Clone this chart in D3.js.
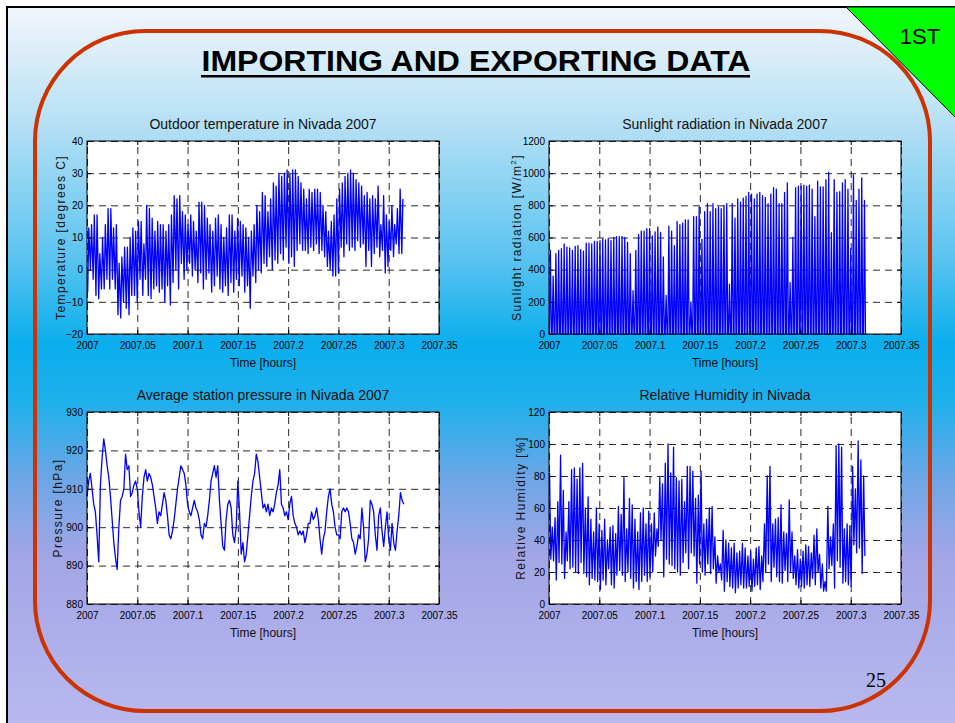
<!DOCTYPE html>
<html>
<head>
<meta charset="utf-8">
<script src="https://cdn.jsdelivr.net/npm/d3@7"></script>
<style>
body { margin: 0; background: #fff; }
svg { display: block; font-family: "Liberation Sans", Arial, sans-serif; }
</style>
</head>
<body>
<svg id="slide" width="955" height="723"></svg>
<script>
// shared x axis (decimal year)
const xTicks = [2007, 2007.05, 2007.1, 2007.15, 2007.2, 2007.25, 2007.3, 2007.35];
const xTickLabels = ['2007', '2007.05', '2007.1', '2007.15', '2007.2', '2007.25', '2007.3', '2007.35'];

const tempTicks = [-20, -10, 0, 10, 20, 30, 40];
const sunTicks = [0, 200, 400, 600, 800, 1000, 1200];
const pressTicks = [880, 890, 900, 910, 920, 930];
const humidTicks = [0, 20, 40, 60, 80, 100, 120];

// daily highs / lows of outdoor temperature, day 0 = 1 Jan 2007
const tempHigh = [13,14,17,17,5,10,14,19,19,13,14,2,4,7,7,10,13,12,
	15,15,8,20,19,16,12,15,14,14,12,14,17,23,22,23,18,17,14,
	17,15,12,21,21,20,16,14,12,16,17,14,10,13,17,17,12,16,
	15,14,13,10,12,14,20,18,24,23,18,22,27,26,30,29,30,31,
	30,31,31,29,27,25,22,25,24,25,25,24,20,18,12,15,17,22,
	25,27,29,30,31,30,28,27,26,23,24,22,23,22,26,14,23,17,15,
	20,14,19,25,22];
const tempLow = [-7,0,-3,-8,-9,-6,-6,-3,-6,-3,-6,-14,-15,-10,-12,-14,-8,-8,
	-10,-3,-8,-3,-8,-9,-6,-5,-7,-6,-10,-5,-11,-4,0,-6,2,-3,0,
	2,-2,0,-4,-1,-6,-3,-1,-7,-5,-2,-6,-7,-5,-8,-4,-7,-3,
	-5,-2,-7,-5,-12,-2,-4,0,-1,2,1,4,0,3,2,5,3,7,
	2,4,1,6,8,6,6,5,7,6,8,5,6,4,1,0,-2,-2,
	-1,7,4,8,6,7,6,9,7,8,1,6,1,5,7,4,6,-1,1,
	6,4,8,5,5];

// daily peak of sunlight radiation
const sunPeak = [520,360,500,520,530,560,540,535,520,545,550,525,515,565,565,560,575,575,
	580,590,585,595,580,600,605,605,605,600,570,500,270,520,620,640,640,655,655,
	610,635,665,630,480,240,670,640,550,700,680,690,710,710,200,730,730,790,
	590,760,810,760,810,780,790,780,800,810,310,810,720,840,820,845,855,880,
	870,840,870,880,860,850,810,870,910,900,810,810,880,940,320,600,910,920,
	920,925,920,925,900,730,950,915,915,960,1005,630,960,880,885,940,960,900,530,
	990,830,900,970,830];

// station pressure, one reading every 1/600 year
const pressure = [908,912,914,910,906,904,898,891,911,918,923,920,916,913,908,902,896,892,889,900,
	907,908,910,919,915,916,908,909,911,912,910,904,900,908,913,915,912,914,913,911,
	908,905,901,904,903,906,909,907,903,898,897,899,902,906,910,913,916,915,914,911,
	906,904,903,905,907,905,904,902,898,897,901,900,903,907,912,914,916,913,916,907,
	901,895,894,902,906,907,905,898,896,900,912,904,893,896,891,893,898,903,908,912,
	914,919,917,913,909,905,906,904,906,903,905,904,906,909,911,915,906,905,903,904,
	902,906,908,903,901,900,898,899,898,899,896,898,901,901,904,902,903,905,902,897,
	893,897,899,904,908,910,906,904,900,898,898,897,904,905,904,905,904,901,897,896,
	893,895,898,897,905,900,891,893,897,907,906,904,898,894,903,905,899,895,900,904,
	897,894,901,896,894,899,903,909,907,906];

// relative humidity, night highs and day lows
const humidHigh = [82,48,54,64,93,71,45,64,84,85,78,85,88,60,67,53,45,60,
	50,46,53,40,48,49,44,61,56,79,47,66,62,53,45,57,60,50,58,
	50,57,47,79,75,88,100,82,98,79,77,78,64,86,86,83,66,68,
	83,50,53,60,61,42,30,25,46,40,38,35,38,32,33,38,35,30,
	33,28,35,36,30,50,80,86,50,53,54,62,45,44,65,45,30,34,
	28,33,37,36,32,43,47,31,25,14,61,42,50,99,100,98,47,50,49,
	86,72,102,90,80];
const humidLow = [28,27,15,26,25,16,27,22,23,20,19,26,19,17,12,16,15,14,
	9,15,12,22,12,10,18,21,18,14,20,16,10,14,9,14,18,14,17,
	20,30,36,40,17,28,25,24,22,20,18,26,32,22,32,30,13,25,
	20,18,25,19,22,13,20,15,8,14,11,10,7,10,12,10,10,11,
	8,11,12,9,14,20,25,14,23,17,14,13,21,14,20,16,12,10,
	11,10,12,11,16,12,20,10,8,8,22,24,10,27,23,13,14,12,11,
	37,32,35,19,30];

const svg = d3.select('#slide');
const W = 955, H = 723;
const dayToYear = d => 2007 + d / 365;

// slide background
const defs = svg.append('defs');
const grad = defs.append('linearGradient').attr('id', 'bg')
	.attr('x1', 0).attr('y1', 0).attr('x2', 0).attr('y2', 1);
[[0, '#f2f6fb'], [0.16, '#b5e0f5'], [0.34, '#5cc4f0'], [0.46, '#0aaeee'], [0.54, '#1fb0ec'],
	[0.64, '#6ba6e6'], [0.75, '#a3a6e6'], [1, '#bbbaf0']].forEach(s => {
	grad.append('stop').attr('offset', s[0]).attr('stop-color', s[1]);
});

svg.append('rect')
	.attr('x', 7).attr('y', 7).attr('width', W + 10).attr('height', H + 10)
	.attr('fill', 'url(#bg)').attr('stroke', '#000').attr('stroke-width', 2);

svg.append('path')
	.attr('d', 'M846,7L956,7L956,118Z')
	.attr('fill', '#00ff00').attr('stroke', '#000').attr('stroke-width', 1);
svg.append('text')
	.attr('x', 920).attr('y', 44).attr('text-anchor', 'middle')
	.attr('font-size', 22).text('1ST');

svg.append('rect')
	.attr('x', 35).attr('y', 31).attr('width', 895).attr('height', 680)
	.attr('rx', 110).attr('ry', 110)
	.attr('fill', 'none').attr('stroke', '#cc3300').attr('stroke-width', 4);

svg.append('text')
	.attr('x', 476).attr('y', 71).attr('text-anchor', 'middle')
	.attr('font-size', 29).attr('font-weight', 'bold')
	.attr('textLength', 549).attr('lengthAdjust', 'spacingAndGlyphs')
	.text('IMPORTING AND EXPORTING DATA');
svg.append('rect')
	.attr('x', 201).attr('y', 75).attr('width', 549).attr('height', 2.5).attr('fill', '#000');

svg.append('text')
	.attr('x', 876).attr('y', 687).attr('text-anchor', 'middle')
	.attr('font-family', '"Liberation Serif", "Times New Roman", serif')
	.attr('font-size', 20).text('25');

// panels
const panels = [
	{ id: 'temp', left: 87, top: 141, height: 193, yDomain: [-20, 40], yTicks: tempTicks,
		title: 'Outdoor temperature in Nivada 2007', ylabel: 'Temperature [degrees C]', labelOff: 22 },
	{ id: 'sun', left: 549, top: 141, height: 193, yDomain: [0, 1200], yTicks: sunTicks,
		title: 'Sunlight radiation in Nivada 2007', ylabel: 'Sunlight radiation [W/m', sup: '2', labelOff: 28 },
	{ id: 'press', left: 87, top: 412, height: 192, yDomain: [880, 930], yTicks: pressTicks,
		title: 'Average station pressure in Nivada 2007', ylabel: 'Pressure [hPa]', labelOff: 25 },
	{ id: 'humid', left: 549, top: 412, height: 192, yDomain: [0, 120], yTicks: humidTicks,
		title: 'Relative Humidity in Nivada', ylabel: 'Relative Humidity [%]', labelOff: 24 }
];
const pw = 352;

const styleAxis = g => {
	g.select('.domain').remove();
	g.selectAll('text').attr('font-family', '"Liberation Sans", Arial, sans-serif')
		.attr('font-size', 10).attr('fill', '#000');
	g.selectAll('line').attr('stroke', '#000');
};

panels.forEach(p => {
	const x = d3.scaleLinear().domain([2007, 2007.35]).range([0, pw]);
	const y = d3.scaleLinear().domain(p.yDomain).range([p.height, 0]);
	p.x = x; p.y = y;
	const g = svg.append('g').attr('transform', `translate(${p.left},${p.top})`);
	p.g = g;

	g.append('rect').attr('width', pw).attr('height', p.height).attr('fill', '#fff');

	// dashed grid
	const grid = g.append('g');
	grid.append('g').attr('transform', `translate(0,${p.height})`)
		.call(d3.axisBottom(x).tickValues(xTicks).tickSize(-p.height).tickFormat(''));
	grid.append('g')
		.call(d3.axisLeft(y).tickValues(p.yTicks).tickSize(-pw).tickFormat(''));
	grid.selectAll('.domain').remove();
	grid.selectAll('line').attr('stroke', '#2a2a2a').attr('stroke-width', 1)
		.attr('stroke-dasharray', '7,5');

	p.plot = g.append('g');

	// tick marks inside on all sides, labels left and bottom
	g.append('g').attr('transform', `translate(0,${p.height})`)
		.call(d3.axisBottom(x).tickValues(xTicks).tickSize(-4).tickPadding(8)
			.tickFormat((d, i) => xTickLabels[i]))
		.call(styleAxis);
	g.append('g')
		.call(d3.axisTop(x).tickValues(xTicks).tickSize(-4).tickFormat(''))
		.call(styleAxis);
	g.append('g')
		.call(d3.axisLeft(y).tickValues(p.yTicks).tickSize(-4).tickPadding(4).tickFormat(d3.format('d')))
		.call(styleAxis);
	g.append('g').attr('transform', `translate(${pw},0)`)
		.call(d3.axisRight(y).tickValues(p.yTicks).tickSize(-4).tickFormat(''))
		.call(styleAxis);

	g.append('rect').attr('width', pw).attr('height', p.height)
		.attr('fill', 'none').attr('stroke', '#000').attr('stroke-width', 1);

	g.append('text').attr('x', pw / 2).attr('y', -12).attr('text-anchor', 'middle')
		.attr('font-size', 14).attr('fill', '#111').text(p.title);
	g.append('text').attr('x', pw / 2).attr('y', p.height + 33).attr('text-anchor', 'middle')
		.attr('font-size', 12).attr('fill', '#111').text('Time [hours]');

	const yl = g.append('text')
		.attr('transform', `translate(${-p.labelOff},${p.height / 2}) rotate(-90)`)
		.attr('text-anchor', 'middle').attr('font-size', 12).attr('fill', '#111')
		.attr('letter-spacing', 1.4);
	yl.append('tspan').text(p.ylabel);
	if (p.sup) {
		yl.append('tspan').attr('font-size', 8).attr('dy', -5).text(p.sup);
		yl.append('tspan').attr('dy', 5).text(']');
	}
});

const lineStyle = sel => sel.attr('fill', 'none').attr('stroke', '#0000ff')
	.attr('stroke-width', 1.3).attr('stroke-linejoin', 'round');

// temperature: night low then afternoon high each day
{
	const p = panels[0];
	const pts = tempHigh.flatMap((h, i) => [[i + 0.25, tempLow[i]], [i + 0.65, h]]);
	p.plot.append('path').datum(pts)
		.attr('d', d3.line().x(d => p.x(dayToYear(d[0]))).y(d => p.y(d[1])))
		.call(lineStyle);
}

// sunlight: zero at night, peak at midday
{
	const p = panels[1];
	const pts = sunPeak.flatMap((v, i) => [[i + 0.15, 0], [i + 0.5, v], [i + 0.85, 0]]);
	p.plot.append('path').datum(pts)
		.attr('d', d3.line().x(d => p.x(dayToYear(d[0]))).y(d => p.y(d[1])))
		.call(lineStyle);
}

// pressure
{
	const p = panels[2];
	p.plot.append('path').datum(pressure)
		.attr('d', d3.line().x((d, i) => p.x(2007 + i * 0.05 / 30)).y(d => p.y(d)))
		.call(lineStyle);
}

// humidity: night high then afternoon low
{
	const p = panels[3];
	const pts = humidHigh.flatMap((h, i) => [[i + 0.2, h], [i + 0.65, humidLow[i]]]);
	p.plot.append('path').datum(pts)
		.attr('d', d3.line().x(d => p.x(dayToYear(d[0]))).y(d => p.y(d[1])))
		.call(lineStyle);
}
</script>
</body>
</html>
